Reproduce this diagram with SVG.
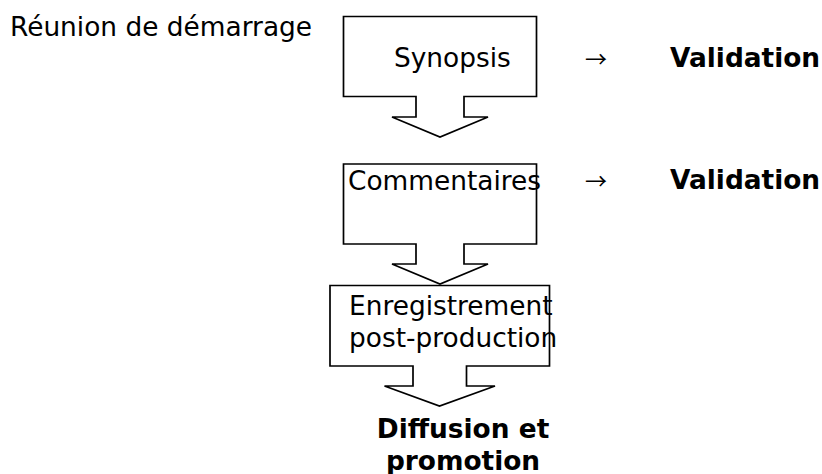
<svg xmlns="http://www.w3.org/2000/svg" width="822" height="474" viewBox="0 0 822 474">
<style>
.shape{fill:#fff;stroke:#000;stroke-width:1.7;stroke-linejoin:miter}
text{font-family:"DejaVu Sans","Verdana",sans-serif;font-size:26.4px;fill:#000}
.b{font-weight:bold}
.arr{font-family:"Noto Sans CJK JP","DejaVu Sans",sans-serif;font-size:22px}
</style>
<rect width="822" height="474" fill="#fff"/>
<g id="connectors"></g>
<g id="n-reunion"><text x="10" y="36">Réunion de démarrage</text></g>
<g id="n-synopsis">
<path class="shape" d="M343.5,16.5 H536.5 V96.5 H464 V117 H488 L440,137 L392,117 H416 V96.5 H343.5 Z"/>
<text x="394" y="67">Synopsis</text>
</g>
<g id="n-validation1"><text class="arr" x="585" y="67">→</text><text class="b" x="670" y="67">Validation</text></g>
<g id="n-commentaires">
<path class="shape" d="M343.5,164 H536.5 V244 H464 V264 H488 L440,284 L392,264 H416 V244 H343.5 Z"/>
<text x="348" y="190">Commentaires</text>
</g>
<g id="n-validation2"><text class="arr" x="585" y="189">→</text><text class="b" x="670" y="189">Validation</text></g>
<g id="n-enregistrement">
<path class="shape" d="M330,285.5 H549.5 V366 H466.5 V386 H495 L439.5,406 L384.5,386 H413 V366 H330 Z"/>
<text x="349" y="315">Enregistrement</text>
<text x="349" y="347">post-production</text>
</g>
<g id="n-diffusion">
<text class="b" x="463" y="438" text-anchor="middle">Diffusion et</text>
<text class="b" x="463" y="470" text-anchor="middle">promotion</text>
</g>
</svg>
